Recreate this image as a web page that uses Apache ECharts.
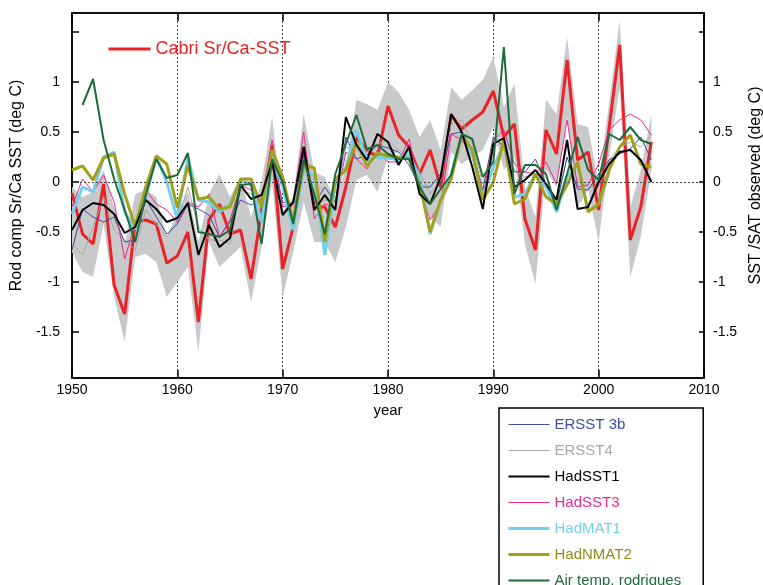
<!DOCTYPE html>
<html><head><meta charset="utf-8">
<script src="https://cdn.jsdelivr.net/npm/echarts@6/dist/echarts.min.js"></script>
<style>html,body{margin:0;padding:0;background:#fff}#c{width:763px;height:585px}</style>
</head><body><div id="c"></div>
<script>
const years = [1950,1951,1952,1953,1954,1955,1956,1957,1958,1959,
1960,1961,1962,1963,1964,1965,1966,1967,1968,1969,
1970,1971,1972,1973,1974,1975,1976,1977,1978,1979,
1980,1981,1982,1983,1984,1985,1986,1987,1988,1989,
1990,1991,1992,1993,1994,1995,1996,1997,1998,1999,
2000,2001,2002,2003,2004,2005];

const cabri = [-0.11,-0.52,-0.62,-0.02,-1.03,-1.32,-0.40,-0.38,-0.42,-0.81,
-0.74,-0.50,-1.40,-0.38,-0.22,-0.52,-0.48,-0.97,-0.28,0.37,
-0.87,-0.45,0.35,-0.25,-0.25,-0.45,-0.05,0.45,0.32,0.25,
0.76,0.47,0.35,0.08,0.32,-0.05,0.67,0.53,0.62,0.70,
0.91,0.45,0.58,-0.37,-0.68,0.52,0.28,1.22,0.22,0.30,
-0.28,0.55,1.37,-0.58,-0.25,0.40];

const bandUpper = [-0.05,-0.15,-0.10,0.12,-0.25,-0.62,-0.12,-0.08,-0.15,-0.55,
-0.30,-0.10,-0.60,-0.12,0.08,-0.15,0.05,-0.35,0.00,0.65,
-0.30,-0.15,0.68,0.10,0.05,-0.20,0.15,0.82,0.78,0.72,
1.00,0.90,0.72,0.45,0.62,0.32,0.95,0.82,0.92,1.02,
1.25,0.75,0.98,-0.05,-0.35,0.82,0.68,1.45,0.58,0.55,
-0.02,0.80,1.62,-0.25,0.12,0.68];

const bandLower = [-0.70,-0.90,-0.95,-0.42,-1.15,-1.60,-0.75,-0.72,-0.80,-1.15,
-1.00,-0.85,-1.70,-0.60,-0.85,-0.75,-0.65,-1.20,-0.65,0.00,
-1.15,-0.70,-0.20,-0.60,-0.60,-0.80,-0.45,0.02,0.07,-0.10,
0.25,0.30,0.20,-0.08,-0.35,-0.45,0.30,0.18,0.25,0.32,
0.55,0.12,0.25,-0.62,-1.02,0.12,-0.05,0.65,-0.25,-0.08,
-0.60,0.25,0.95,-0.95,-0.55,0.12];

const ersst3b = [-0.68,-0.27,-0.35,-0.40,-0.35,-0.60,-0.58,-0.17,-0.35,-0.52,
-0.42,-0.22,-0.27,-0.33,-0.55,-0.40,-0.18,-0.23,-0.18,0.20,
-0.20,-0.22,0.28,-0.22,-0.05,-0.20,0.45,0.23,0.27,0.37,
0.34,0.30,0.17,-0.05,-0.05,0.08,0.48,0.50,0.32,-0.08,
0.45,0.35,0.10,0.10,0.23,-0.02,-0.22,0.25,-0.07,-0.08,
0.08,0.22,0.28,0.33,0.45,0.22];

const ersst4 = [-0.62,-0.73,-0.45,-0.15,-0.48,-0.58,-0.68,-0.28,-0.42,-0.55,
-0.40,-0.05,-0.45,-0.58,-0.58,-0.62,-0.08,-0.12,-0.25,0.23,
-0.22,-0.25,0.18,-0.25,-0.18,-0.18,0.35,0.32,0.30,0.38,
0.42,0.32,0.25,0.10,-0.12,0.02,0.58,0.62,0.38,-0.02,
0.35,0.40,0.12,0.05,0.08,-0.02,-0.25,0.25,0.02,-0.05,
-0.05,0.22,0.35,0.40,0.35,0.47];

const hadsst1 = [-0.48,-0.28,-0.21,-0.23,-0.32,-0.51,-0.45,-0.18,-0.27,-0.40,
-0.36,-0.21,-0.73,-0.43,-0.65,-0.56,-0.03,-0.17,-0.13,0.20,
-0.33,-0.20,0.35,-0.28,-0.13,-0.28,0.65,0.37,0.22,0.48,
0.40,0.17,0.35,-0.12,-0.22,0.05,0.68,0.50,0.15,-0.27,
0.38,0.44,-0.05,0.02,0.12,-0.02,-0.18,0.42,-0.27,-0.25,
0.00,0.18,0.30,0.32,0.22,0.00];

const hadsst3 = [-0.25,0.03,-0.10,0.07,-0.20,-0.77,-0.42,-0.08,-0.22,-0.28,
-0.40,-0.20,-0.25,-0.12,-0.55,-0.38,-0.03,-0.08,-0.18,0.42,
-0.25,-0.22,0.50,-0.37,-0.22,-0.25,0.30,0.23,0.13,0.32,
0.20,0.20,0.43,-0.05,-0.38,-0.22,0.48,0.42,0.28,-0.15,
0.42,0.52,0.18,0.10,0.08,0.20,-0.02,0.62,-0.05,-0.03,
0.18,0.52,0.62,0.68,0.62,0.47];

const hadmat1 = [-0.32,-0.05,-0.10,0.25,0.30,-0.30,-0.47,-0.15,0.25,0.00,
-0.37,0.25,-0.18,-0.20,-0.30,-0.22,0.02,-0.02,-0.40,0.30,
-0.05,-0.48,0.15,0.05,-0.73,-0.03,0.15,0.52,0.22,0.25,
0.24,0.22,0.27,0.05,-0.52,-0.18,0.08,0.47,0.27,-0.15,
0.15,0.38,-0.15,-0.12,0.08,-0.05,-0.30,0.05,0.18,-0.28,
-0.22,0.10,null,null,null,null];

const hadnmat2 = [0.12,0.16,0.02,0.24,0.28,-0.12,-0.45,-0.05,0.26,0.18,
-0.26,0.16,-0.17,-0.15,-0.27,-0.25,0.03,0.03,-0.25,0.32,
0.05,-0.40,0.17,0.14,-0.60,0.03,0.12,0.40,0.16,0.29,
0.26,0.25,0.23,-0.02,-0.50,-0.18,0.03,0.47,0.32,-0.18,
0.00,0.42,-0.22,-0.17,0.08,-0.15,-0.22,-0.03,0.20,-0.30,
-0.22,0.12,0.35,0.47,0.18,0.15];

const airTemp = [null,0.77,1.03,0.42,0.03,-0.28,-0.60,-0.13,0.23,0.04,
0.07,0.29,-0.50,-0.52,-0.55,-0.48,-0.03,-0.02,-0.62,0.23,
0.00,-0.42,0.22,-0.12,-0.52,0.08,0.38,0.67,0.33,0.37,
0.28,0.23,0.23,-0.05,-0.22,-0.07,0.07,0.48,0.43,0.05,
0.20,1.35,-0.12,0.17,0.17,0.08,-0.28,0.08,0.45,0.12,
0.02,0.48,0.42,0.55,0.42,0.38];

const yTickValues = [-1.5,-1,-0.5,0,0.5,1,1.5];
const yLabelValues = [-1.5,-1,-0.5,0,0.5,1];
const legendNames = ['ERSST 3b','ERSST4','HadSST1','HadSST3','HadMAT1','HadNMAT2','Air temp. rodrigues'];

function pairs(arr){ const out=[]; years.forEach((y,i)=>{ if(arr[i]!==null) out.push([y,arr[i]]); }); return out; }

const FONT = 'Liberation Sans, Arial, sans-serif';
const colors = {
  cabri:'#ea2328', ersst3b:'#3b4ea2', ersst4:'#a8a8a8', hadsst1:'#000000',
  hadsst3:'#ec2a8d', hadmat1:'#72d0ee', hadnmat2:'#a4a01a', air:'#1e6b3a'
};
const legendTextColors = [colors.ersst3b, colors.ersst4, colors.hadsst1, colors.hadsst3, colors.hadmat1, '#8f8c17', colors.air];
const legendLineWidths = [1, 1, 2, 1, 3, 3, 2];

function lineSeries(name, arr, color, width){
  return {name, type:'line', data:pairs(arr), symbol:'none', showSymbol:false,
    lineStyle:{color, width}, itemStyle:{color}, emphasis:{disabled:true}, silent:true};
}

function yAxisDef(pos, name, gap){
  return {
    type:'value', position:pos, min:-1.96, max:1.69,
    axisLine:{show:true, onZero:false, lineStyle:{color:'#000', width:1.5}},
    axisTick:{show:true, inside:true, length: pos==='left'?7:5, customValues:yTickValues, lineStyle:{color:'#000', width:1.5}},
    axisLabel:{show:true, customValues:yLabelValues, color:'#000', fontSize:14, fontFamily:FONT, margin: pos==='left'?12:9,
      formatter:v=>String(v)},
    splitLine:{show:false},
    name, nameLocation:'middle', nameRotate:90, nameGap:gap,
    nameTextStyle:{color:'#000', fontSize:16, fontFamily:FONT, padding:[0,0,0,20]}
  };
}

const chart = echarts.init(document.getElementById('c'));
chart.setOption({
  animation:false,
  textStyle:{fontFamily:FONT},
  grid:{left:72, top:13, width:632, height:365, show:true, borderColor:'#000', borderWidth:1.5,
        backgroundColor:'transparent', containLabel:false, outerBoundsMode:'none'},
  xAxis:[
    {type:'value', position:'bottom', min:1950, max:2010, interval:10,
     axisLine:{show:true, onZero:false, lineStyle:{color:'#000', width:1.5}},
     axisTick:{inside:true, length:8, lineStyle:{color:'#000', width:1.5}},
     axisLabel:{color:'#000', fontSize:14, fontFamily:FONT, margin:5, formatter:v=>String(v)},
     splitLine:{show:true, lineStyle:{type:[2,2], color:'#444', width:1}},
     name:'year', nameLocation:'middle', nameGap:25,
     nameTextStyle:{color:'#000', fontSize:15, fontFamily:FONT}},
    {type:'value', position:'top', min:1950, max:2010, interval:10,
     axisLine:{show:true, onZero:false, lineStyle:{color:'#000', width:1.5}},
     axisTick:{inside:true, length:8, lineStyle:{color:'#000', width:1.5}},
     axisLabel:{show:false}, splitLine:{show:false}}
  ],
  yAxis:[
    yAxisDef('left','Rod comp Sr/Ca SST (deg C)',41),
    yAxisDef('right','SST /SAT observed (deg C)',35)
  ],
  legend:[
    {data:legendNames.map((n,i)=>({name:n, textStyle:{color:legendTextColors[i]}, lineStyle:{width:legendLineWidths[i]}})),
     orient:'vertical', left:499, top:408, height:200, padding:[9,22,20,8], itemWidth:41, itemHeight:14, itemGap:11,
     borderColor:'#000', borderWidth:1.5, selectedMode:false,
     itemStyle:{opacity:0},
     textStyle:{fontSize:15, fontFamily:FONT}},
    {data:[{name:'Cabri Sr/Ca-SST', textStyle:{color:colors.cabri}, lineStyle:{width:3}}],
     left:107, top:40, padding:0, itemWidth:42, itemHeight:16, selectedMode:false,
     itemStyle:{opacity:0},
     textStyle:{fontSize:18, fontFamily:FONT}}
  ],
  series:[
    {name:'band', type:'custom', silent:true, z:1,
     data:years.map((y,i)=>[y, bandLower[i], bandUpper[i]]),
     encode:{x:0, y:[1,2]},
     renderItem:function(params, api){
       if (params.dataIndex !== 0) return null;
       const up = [], lo = [];
       for (let i = 0; i < years.length; i++){
         up.push(api.coord([years[i], bandUpper[i]]));
         lo.push(api.coord([years[i], bandLower[i]]));
       }
       return {type:'polygon', shape:{points: up.concat(lo.reverse())}, style:{fill:'#c8c9cb', stroke:null}};
     },
     markLine:{silent:true, symbol:'none', label:{show:false}, lineStyle:{type:[2,2], color:'#444', width:1},
       data:[{yAxis:0}]}},
    lineSeries('Cabri Sr/Ca-SST', cabri, colors.cabri, 3),
    lineSeries('ERSST4', ersst4, colors.ersst4, 1),
    lineSeries('ERSST 3b', ersst3b, colors.ersst3b, 1),
    lineSeries('HadSST3', hadsst3, colors.hadsst3, 1),
    lineSeries('HadMAT1', hadmat1, colors.hadmat1, 3),
    lineSeries('HadNMAT2', hadnmat2, colors.hadnmat2, 3),
    lineSeries('HadSST1', hadsst1, colors.hadsst1, 2),
    lineSeries('Air temp. rodrigues', airTemp, colors.air, 2)
  ]
});
</script></body></html>
